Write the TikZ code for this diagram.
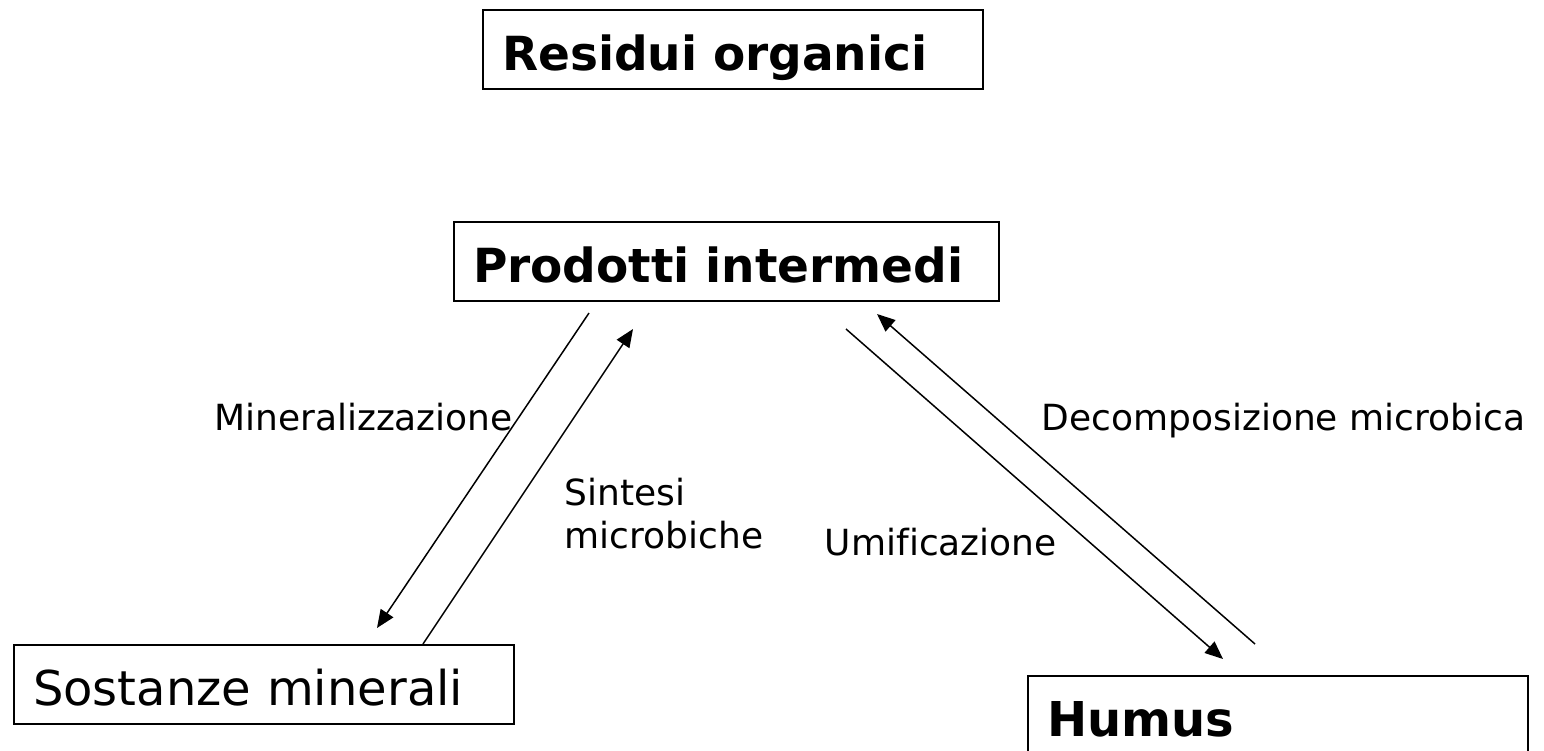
\documentclass[tikz,border=0pt]{standalone}
\usepackage{fontspec}
\setmainfont{DejaVu Sans}[Ligatures=NoCommon]
\usetikzlibrary{arrows.meta,calc}
\begin{document}
\begin{tikzpicture}[x=1pt,y=-1pt,
  box/.style={draw, line width=2pt, anchor=north west, inner ysep=0pt, inner xsep=19pt,
    minimum height=79pt, text height=45pt, text depth=4pt, align=left},
  boldtxt/.style={font=\fontsize{47}{56}\selectfont\bfseries},
  regtxt/.style={font=\fontsize{48}{57}\selectfont},
  lbl/.style={font=\fontsize{36}{43}\selectfont, inner sep=0pt, align=left},
  flow/.style={line width=1.5pt, -{Triangle[length=18pt,width=15pt]}}]
\useasboundingbox (0,0) rectangle (1544,750);
\node[box, boldtxt, text width=462pt] (res) at (482,9) {Residui organici};
\node[box, boldtxt, text width=507pt] (pro) at (453,221) {Prodotti intermedi};
\node[box, regtxt, text width=462pt] (sos) at (13,644) {Sostanze minerali};
\node[box, boldtxt, font=\fontsize{48}{57}\selectfont\bfseries, text width=462pt] (hum) at (1027,675) {Humus};
% connector end points
\coordinate (m1) at ($(pro.south west)+(136,11)$);
\coordinate (m2) at ($(sos.north west)+(364,-16)$);
\coordinate (s1) at ($(sos.north west)+(410,0)$);
\coordinate (s2) at ($(pro.south west)+(180,27)$);
\coordinate (u1) at ($(pro.south west)+(393,27)$);
\coordinate (u2) at ($(hum.north west)+(196,-16)$);
\coordinate (d1) at ($(hum.north west)+(228,-31)$);
\coordinate (d2) at ($(pro.south west)+(424,12)$);
\draw[flow] (m1) -- (m2);
\draw[flow] (s1) -- (s2);
\draw[flow] (u1) -- (u2);
\draw[flow] (d1) -- (d2);
% labels
\node[lbl, anchor=base west] (lmin) at (214,430) {Mineralizzazione};
\node[lbl, anchor=base west] (lsin) at (564.5,548) {Sintesi\\microbiche};
\node[lbl, anchor=base east] (lumi) at (1057,555) {Umificazione};
\node[lbl, anchor=base west] (ldec) at (1041.5,430) {Decomposizione microbica};
\end{tikzpicture}
\end{document}
